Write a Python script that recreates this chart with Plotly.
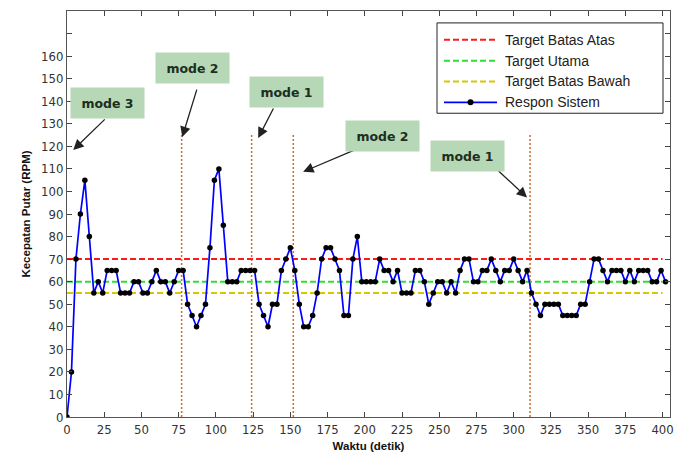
import plotly.graph_objects as go

# ---------------- data ----------------
SAMPLE_PERIOD = 3  # seconds between samples
rpm_response = [
    0, 20, 70, 90, 105, 80, 55, 60, 55, 65, 65, 65, 55, 55, 55, 60, 60, 55, 55, 60, 65, 60, 60, 55, 60, 65,
    65, 50, 45, 40, 45, 50, 75, 105, 110, 85, 60, 60, 60, 65, 65, 65, 65, 50, 45, 40, 50, 50, 65, 70, 75, 65, 50,
    40, 40, 45, 55, 70, 75, 75, 70, 65, 45, 45, 70, 80, 60, 60, 60, 60, 70, 65, 65, 60, 65, 55, 55, 55, 65, 65,
    60, 50, 55, 60, 60, 55, 60, 55, 65, 70, 70, 60, 60, 65, 65, 70, 65, 60, 65, 65, 70, 65, 60, 65, 55, 50, 45,
    50, 50, 50, 50, 45, 45, 45, 45, 50, 50, 60, 70, 70, 65, 60, 65, 65, 65, 60, 65, 60, 65, 65, 65, 60, 60, 65, 60,
]
time_s = [i * SAMPLE_PERIOD for i in range(len(rpm_response))]

target_upper = 70
target_main = 60
target_lower = 55
target_span = [0, 400]

series_names = ["Target Batas Atas", "Target Utama", "Target Batas Bawah", "Respon Sistem"]
series_colors = ["#ff1a1a", "#33dd33", "#d8c800", "#0000ff"]

mode_switch_times = [77, 124, 152, 311]
mode_line_top = 125

mode_labels = ["mode 3", "mode 2", "mode 1", "mode 2", "mode 1"]
label_pos_x = [27.0, 84.4, 147.2, 212.0, 268.7]
label_pos_y = [139.1, 154.9, 144.1, 124.8, 115.8]
arrow_head_x = [4.2, 77.4, 128.4, 158.6, 309.0]
arrow_head_y = [118.4, 124.1, 123.7, 108.7, 97.3]
arrow_tail_dx = [33, 15, 16, 52, -30]
arrow_tail_dy = [-32, -49, -31, -22, -28]

x_ticks = list(range(0, 401, 25))
y_ticks = list(range(0, 171, 10))
y_tick_text = [str(v) if v <= 160 else "" for v in y_ticks]

FONT = "Liberation Sans Narrow, DejaVu Sans Condensed, Arial, Liberation Sans, sans-serif"
LEG_FONT = "Liberation Sans, Arial, sans-serif"
DASH = "6px,3px"

# plot-area geometry (pixels) used to place the hand-drawn legend
PL, PR, PT, PB = 67, 670, 10, 419


def px_x(p):
    return (p - PL) / (PR - PL)


def px_y(p):
    return (PB - p) / (PB - PT)


fig = go.Figure()

fig.add_trace(go.Scatter(x=target_span, y=[target_upper] * 2, mode="lines",
                         name=series_names[0],
                         line=dict(color=series_colors[0], width=2, dash=DASH)))
fig.add_trace(go.Scatter(x=target_span, y=[target_main] * 2, mode="lines",
                         name=series_names[1],
                         line=dict(color=series_colors[1], width=2, dash=DASH)))
fig.add_trace(go.Scatter(x=target_span, y=[target_lower] * 2, mode="lines",
                         name=series_names[2],
                         line=dict(color=series_colors[2], width=2, dash=DASH)))
fig.add_trace(go.Scatter(x=time_s, y=rpm_response, mode="lines+markers",
                         name=series_names[3],
                         line=dict(color=series_colors[3], width=1.7),
                         marker=dict(color="black", size=5.5)))

for t in mode_switch_times:
    fig.add_shape(type="line", x0=t, x1=t, y0=0, y1=mode_line_top,
                  xref="x", yref="y", layer="below",
                  line=dict(color="#cc6a33", width=1.5, dash="2px,2px"))

for i, lab in enumerate(mode_labels):
    fig.add_annotation(x=arrow_head_x[i], y=arrow_head_y[i], xref="x", yref="y",
                       text="", showarrow=True, ax=arrow_tail_dx[i], ay=arrow_tail_dy[i],
                       arrowhead=2, arrowsize=1.6, arrowwidth=1.3, arrowcolor="#222222")
    fig.add_annotation(x=label_pos_x[i], y=label_pos_y[i], xref="x", yref="y",
                       text="<b>%s</b>" % lab, showarrow=False,
                       font=dict(family="DejaVu Sans, Verdana, sans-serif", size=12.5, color="#1e2e1e"),
                       bgcolor="#b6d8b6", width=68, height=25, borderpad=2.5)

# ---- hand-drawn MATLAB-style legend ----
fig.add_shape(type="rect", xref="paper", yref="paper",
              x0=px_x(437), x1=px_x(663), y0=px_y(113), y1=px_y(22),
              line=dict(color="#222222", width=1), fillcolor="white", layer="above")
entry_y = [39, 60, 81, 102]
for i, name in enumerate(series_names):
    yy = px_y(entry_y[i])
    if i < 3:
        ln = dict(color=series_colors[i], width=2, dash=DASH)
    else:
        ln = dict(color=series_colors[i], width=1.7)
    fig.add_shape(type="line", xref="paper", yref="paper",
                  x0=px_x(444), x1=px_x(497), y0=yy, y1=yy, line=ln, layer="above")
    fig.add_annotation(x=px_x(503), y=yy, xref="paper", yref="paper",
                       text=name, showarrow=False, xanchor="left", yanchor="middle",
                       font=dict(family=LEG_FONT, size=14, color="#222222"))
yy = px_y(entry_y[3])
fig.add_shape(type="circle", xref="paper", yref="paper",
              x0=px_x(467.5), x1=px_x(473.5), y0=px_y(entry_y[3] + 3), y1=px_y(entry_y[3] - 3),
              line=dict(color="black", width=0), fillcolor="black", layer="above")

fig.update_layout(
    width=686, height=461,
    margin=dict(l=PL, r=686 - PR, t=PT, b=461 - PB),
    paper_bgcolor="white", plot_bgcolor="white",
    font=dict(family=FONT, size=13, color="#333333"),
    showlegend=False,
    xaxis=dict(range=[0, 405], tickvals=x_ticks, ticks="inside", ticklen=5,
               tickcolor="#444444", showline=True, linecolor="#555555", linewidth=1,
               mirror="ticks", showgrid=False, zeroline=False,
               tickfont=dict(family=FONT, size=13, color="#333333"),
               title=dict(text="<b>Waktu (detik)</b>", standoff=6,
                          font=dict(family="Liberation Sans, Arial", size=11.5, color="#111111"))),
    yaxis=dict(range=[0, 180], tickvals=y_ticks, ticktext=y_tick_text, ticks="inside", ticklen=5,
               tickcolor="#444444", showline=True, linecolor="#555555", linewidth=1,
               mirror="ticks", showgrid=False, zeroline=False,
               tickfont=dict(family=FONT, size=13, color="#333333"),
               title=dict(text="<b>Kecepatan Putar (RPM)</b>", standoff=8,
                          font=dict(family="Liberation Sans, Arial", size=11.5, color="#111111"))),
)

fig.write_html("out.html")
